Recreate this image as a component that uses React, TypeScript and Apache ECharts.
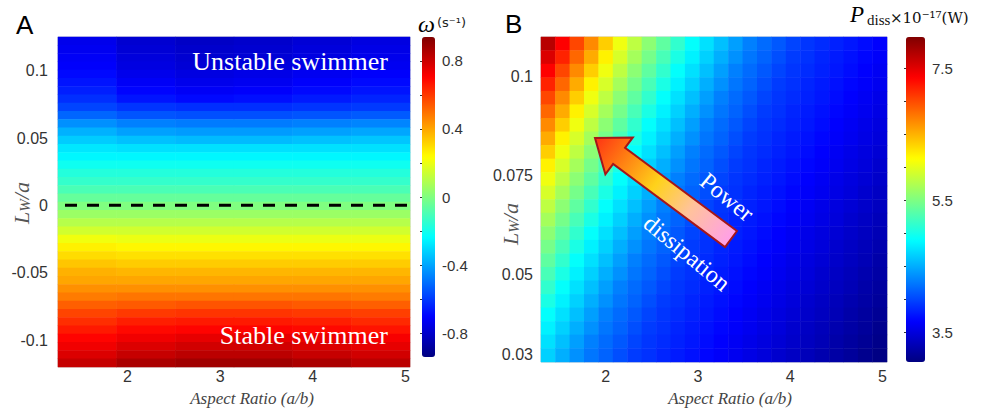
import React, { useEffect, useRef } from "react";
import * as echarts from "echarts";

// ---------- Panel A : omega (s^-1) over aspect ratio (columns) and L_W/a (rows, top -> bottom) ----------
const aspectColsA = ["1.57", "2.20", "2.83", "3.47", "4.10", "4.73"];
const lwRowsA = [
  "0.1219", "0.1158", "0.1097", "0.1036", "0.0974", "0.0913", "0.0852", "0.0791",
  "0.0729", "0.0668", "0.0607", "0.0546", "0.0484", "0.0423", "0.0362", "0.0301",
  "0.0239", "0.0178", "0.0117", "0.0056", "-0.0006", "-0.0067", "-0.0128", "-0.0189",
  "-0.0251", "-0.0312", "-0.0373", "-0.0434", "-0.0496", "-0.0557", "-0.0618", "-0.0679",
  "-0.0741", "-0.0802", "-0.0863", "-0.0924", "-0.0986", "-0.1047", "-0.1108", "-0.1169",
];
const omegaGrid = [
  [-0.74, -0.79, -0.81, -0.80, -0.78, -0.76],
  [-0.73, -0.78, -0.80, -0.79, -0.77, -0.75],
  [-0.72, -0.77, -0.79, -0.78, -0.76, -0.74],
  [-0.71, -0.76, -0.78, -0.77, -0.75, -0.73],
  [-0.69, -0.74, -0.76, -0.75, -0.73, -0.71],
  [-0.67, -0.72, -0.74, -0.73, -0.71, -0.69],
  [-0.65, -0.70, -0.72, -0.71, -0.69, -0.67],
  [-0.62, -0.67, -0.69, -0.68, -0.66, -0.64],
  [-0.58, -0.61, -0.62, -0.62, -0.61, -0.60],
  [-0.52, -0.55, -0.56, -0.56, -0.55, -0.54],
  [-0.44, -0.47, -0.48, -0.48, -0.47, -0.46],
  [-0.38, -0.41, -0.42, -0.42, -0.41, -0.40],
  [-0.33, -0.35, -0.36, -0.36, -0.35, -0.34],
  [-0.28, -0.29, -0.29, -0.29, -0.29, -0.29],
  [-0.25, -0.25, -0.25, -0.25, -0.25, -0.25],
  [-0.21, -0.21, -0.21, -0.21, -0.21, -0.21],
  [-0.17, -0.17, -0.17, -0.17, -0.17, -0.17],
  [-0.14, -0.14, -0.14, -0.14, -0.14, -0.14],
  [-0.10, -0.10, -0.10, -0.10, -0.10, -0.10],
  [-0.05, -0.05, -0.05, -0.05, -0.05, -0.05],
  [0.00, 0.00, 0.00, 0.00, 0.00, 0.00],
  [0.05, 0.05, 0.05, 0.05, 0.05, 0.05],
  [0.10, 0.10, 0.10, 0.10, 0.10, 0.10],
  [0.15, 0.15, 0.15, 0.15, 0.15, 0.15],
  [0.21, 0.20, 0.20, 0.20, 0.20, 0.20],
  [0.26, 0.25, 0.25, 0.25, 0.25, 0.25],
  [0.30, 0.29, 0.29, 0.29, 0.29, 0.29],
  [0.34, 0.33, 0.33, 0.33, 0.33, 0.33],
  [0.38, 0.37, 0.37, 0.37, 0.37, 0.37],
  [0.40, 0.40, 0.40, 0.40, 0.40, 0.40],
  [0.44, 0.44, 0.44, 0.44, 0.44, 0.44],
  [0.48, 0.49, 0.49, 0.49, 0.49, 0.48],
  [0.53, 0.54, 0.55, 0.55, 0.54, 0.53],
  [0.58, 0.60, 0.61, 0.61, 0.60, 0.59],
  [0.62, 0.65, 0.66, 0.66, 0.65, 0.63],
  [0.66, 0.69, 0.70, 0.70, 0.69, 0.67],
  [0.70, 0.73, 0.75, 0.75, 0.74, 0.72],
  [0.73, 0.77, 0.79, 0.79, 0.77, 0.75],
  [0.77, 0.81, 0.83, 0.83, 0.81, 0.79],
  [0.81, 0.86, 0.88, 0.88, 0.86, 0.83],
];
const neutralLine = [
  [1.25, 0],
  [5.05, 0],
];

// ---------- Panel B : P_diss (x10^-17 W), columns = aspect ratio, rows = L_W/a top -> bottom ----------
const aspectColsB = [
  "1.38", "1.53", "1.69", "1.85", "2.00", "2.16", "2.32", "2.47", "2.63", "2.78", "2.94", "3.10",
  "3.25", "3.41", "3.57", "3.72", "3.88", "4.03", "4.19", "4.35", "4.50", "4.66", "4.82", "4.97",
];
const lwRowsB = [
  "0.1083", "0.1049", "0.1015", "0.0980", "0.0946", "0.0912", "0.0878", "0.0844",
  "0.0810", "0.0776", "0.0741", "0.0707", "0.0673", "0.0639", "0.0605", "0.0571",
  "0.0537", "0.0502", "0.0468", "0.0434", "0.0400", "0.0366", "0.0332", "0.0298",
];
const pDissGrid = [
  [7.70, 7.36, 7.02, 6.69, 6.36, 6.05, 5.81, 5.57, 5.35, 5.13, 4.91, 4.75, 4.59, 4.43, 4.28, 4.18, 4.09, 3.99, 3.92, 3.87, 3.82, 3.77, 3.72, 3.66],
  [7.53, 7.19, 6.86, 6.53, 6.19, 5.93, 5.69, 5.46, 5.24, 5.02, 4.83, 4.67, 4.51, 4.36, 4.23, 4.14, 4.04, 3.95, 3.90, 3.84, 3.79, 3.74, 3.69, 3.64],
  [7.36, 7.02, 6.69, 6.36, 6.05, 5.81, 5.57, 5.35, 5.13, 4.91, 4.75, 4.59, 4.43, 4.28, 4.18, 4.09, 3.99, 3.92, 3.87, 3.82, 3.77, 3.72, 3.66, 3.61],
  [7.19, 6.86, 6.53, 6.19, 5.93, 5.69, 5.46, 5.24, 5.02, 4.83, 4.67, 4.51, 4.36, 4.23, 4.14, 4.04, 3.95, 3.90, 3.84, 3.79, 3.74, 3.69, 3.64, 3.59],
  [7.02, 6.69, 6.36, 6.05, 5.81, 5.57, 5.35, 5.13, 4.91, 4.75, 4.59, 4.43, 4.28, 4.18, 4.09, 3.99, 3.92, 3.87, 3.82, 3.77, 3.72, 3.66, 3.61, 3.56],
  [6.86, 6.53, 6.19, 5.93, 5.69, 5.46, 5.24, 5.02, 4.83, 4.67, 4.51, 4.36, 4.23, 4.14, 4.04, 3.95, 3.90, 3.84, 3.79, 3.74, 3.69, 3.64, 3.59, 3.54],
  [6.69, 6.36, 6.05, 5.81, 5.57, 5.35, 5.13, 4.91, 4.75, 4.59, 4.43, 4.28, 4.18, 4.09, 3.99, 3.92, 3.87, 3.82, 3.77, 3.72, 3.66, 3.61, 3.56, 3.51],
  [6.53, 6.19, 5.93, 5.69, 5.46, 5.24, 5.02, 4.83, 4.67, 4.51, 4.36, 4.23, 4.14, 4.04, 3.95, 3.90, 3.84, 3.79, 3.74, 3.69, 3.64, 3.59, 3.54, 3.49],
  [6.36, 6.05, 5.81, 5.57, 5.35, 5.13, 4.91, 4.75, 4.59, 4.43, 4.28, 4.18, 4.09, 3.99, 3.92, 3.87, 3.82, 3.77, 3.72, 3.66, 3.61, 3.56, 3.51, 3.46],
  [6.19, 5.93, 5.69, 5.46, 5.24, 5.02, 4.83, 4.67, 4.51, 4.36, 4.23, 4.14, 4.04, 3.95, 3.90, 3.84, 3.79, 3.74, 3.69, 3.64, 3.59, 3.54, 3.49, 3.43],
  [6.05, 5.81, 5.57, 5.35, 5.13, 4.91, 4.75, 4.59, 4.43, 4.28, 4.18, 4.09, 3.99, 3.92, 3.87, 3.82, 3.77, 3.72, 3.66, 3.61, 3.56, 3.51, 3.46, 3.41],
  [5.93, 5.69, 5.46, 5.24, 5.02, 4.83, 4.67, 4.51, 4.36, 4.23, 4.14, 4.04, 3.95, 3.90, 3.84, 3.79, 3.74, 3.69, 3.64, 3.59, 3.54, 3.49, 3.43, 3.38],
  [5.81, 5.57, 5.35, 5.13, 4.91, 4.75, 4.59, 4.43, 4.28, 4.18, 4.09, 3.99, 3.92, 3.87, 3.82, 3.77, 3.72, 3.66, 3.61, 3.56, 3.51, 3.46, 3.41, 3.36],
  [5.69, 5.46, 5.24, 5.02, 4.83, 4.67, 4.51, 4.36, 4.23, 4.14, 4.04, 3.95, 3.90, 3.84, 3.79, 3.74, 3.69, 3.64, 3.59, 3.54, 3.49, 3.43, 3.38, 3.33],
  [5.57, 5.35, 5.13, 4.91, 4.75, 4.59, 4.43, 4.28, 4.18, 4.09, 3.99, 3.92, 3.87, 3.82, 3.77, 3.72, 3.66, 3.61, 3.56, 3.51, 3.46, 3.41, 3.36, 3.31],
  [5.46, 5.24, 5.02, 4.83, 4.67, 4.51, 4.36, 4.23, 4.14, 4.04, 3.95, 3.90, 3.84, 3.79, 3.74, 3.69, 3.64, 3.59, 3.54, 3.49, 3.43, 3.38, 3.33, 3.28],
  [5.35, 5.13, 4.91, 4.75, 4.59, 4.43, 4.28, 4.18, 4.09, 3.99, 3.92, 3.87, 3.82, 3.77, 3.72, 3.66, 3.61, 3.56, 3.51, 3.46, 3.41, 3.36, 3.31, 3.25],
  [5.24, 5.02, 4.83, 4.67, 4.51, 4.36, 4.23, 4.14, 4.04, 3.95, 3.90, 3.84, 3.79, 3.74, 3.69, 3.64, 3.59, 3.54, 3.49, 3.43, 3.38, 3.33, 3.28, 3.23],
  [5.13, 4.91, 4.75, 4.59, 4.43, 4.28, 4.18, 4.09, 3.99, 3.92, 3.87, 3.82, 3.77, 3.72, 3.66, 3.61, 3.56, 3.51, 3.46, 3.41, 3.36, 3.31, 3.25, 3.20],
  [5.02, 4.83, 4.67, 4.51, 4.36, 4.23, 4.14, 4.04, 3.95, 3.90, 3.84, 3.79, 3.74, 3.69, 3.64, 3.59, 3.54, 3.49, 3.43, 3.38, 3.33, 3.28, 3.23, 3.18],
  [4.91, 4.75, 4.59, 4.43, 4.28, 4.18, 4.09, 3.99, 3.92, 3.87, 3.82, 3.77, 3.72, 3.66, 3.61, 3.56, 3.51, 3.46, 3.41, 3.36, 3.31, 3.25, 3.20, 3.15],
  [4.83, 4.67, 4.51, 4.36, 4.23, 4.14, 4.04, 3.95, 3.90, 3.84, 3.79, 3.74, 3.69, 3.64, 3.59, 3.54, 3.49, 3.43, 3.38, 3.33, 3.28, 3.23, 3.18, 3.12],
  [4.75, 4.59, 4.43, 4.28, 4.18, 4.09, 3.99, 3.92, 3.87, 3.82, 3.77, 3.72, 3.66, 3.61, 3.56, 3.51, 3.46, 3.41, 3.36, 3.31, 3.25, 3.20, 3.15, 3.10],
  [4.67, 4.51, 4.36, 4.23, 4.14, 4.04, 3.95, 3.90, 3.84, 3.79, 3.74, 3.69, 3.64, 3.59, 3.54, 3.49, 3.43, 3.38, 3.33, 3.28, 3.23, 3.18, 3.12, 3.07],
];

// ---------- tick labels ----------
const xTicks = [2, 3, 4, 5];
const yTicksA = [-0.1, -0.05, 0, 0.05, 0.1];
const yTicksB = [0.03, 0.05, 0.075, 0.1];
const cbTicksA = [-0.8, -0.4, 0, 0.4, 0.8];
const cbMinorA = [-0.8, -0.6, -0.4, -0.2, 0, 0.2, 0.4, 0.6, 0.8];
const cbTicksB = [3.5, 5.5, 7.5];
const cbMinorB = [3.5, 4, 4.5, 5, 5.5, 6, 6.5, 7, 7.5];

const JET = [
  "#000080", "#0000ff", "#0080ff", "#00ffff", "#80ff80",
  "#ffff00", "#ff8000", "#ff0000", "#800000",
];

function toCells(grid: number[][]) {
  const out: number[][] = [];
  grid.forEach((row, r) => row.forEach((v, c) => out.push([c, r, v])));
  return out;
}

const SANS = "Liberation Sans, Arial, sans-serif";
const SERIF = "Liberation Serif, Times New Roman, serif";

export default function App() {
  const ref = useRef<HTMLDivElement>(null);

  useEffect(() => {
    document.body.style.margin = "0";
    if (!ref.current) return;
    const chart = echarts.init(ref.current, undefined, { renderer: "svg" });

    const valueX = (grid: number, min: number, max: number, margin: number) => ({
      type: "value",
      gridIndex: grid,
      min,
      max,
      position: "bottom",
      splitLine: { show: false },
      axisTick: { show: false },
      axisLine: { show: false },
      axisLabel: {
        customValues: xTicks,
        fontSize: 16,
        color: "#333",
        fontFamily: SANS,
        margin,
      },
    });
    const valueY = (grid: number, min: number, max: number, ticks: number[], margin: number) => ({
      type: "value",
      gridIndex: grid,
      min,
      max,
      position: "left",
      splitLine: { show: false },
      axisTick: { show: false },
      axisLine: { show: false },
      axisLabel: {
        customValues: ticks,
        fontSize: 16,
        color: "#333",
        fontFamily: SANS,
        margin,
      },
    });
    const cbY = (grid: number, min: number, max: number, ticks: number[], minor: number[]) => ({
      type: "value",
      gridIndex: grid,
      min,
      max,
      position: "right",
      splitLine: { show: false },
      axisLine: { show: false },
      axisTick: {
        show: true,
        inside: true,
        length: 2,
        customValues: minor,
        lineStyle: { color: "#333", width: 1 },
      },
      axisLabel: {
        customValues: ticks,
        fontSize: 15,
        color: "#333",
        fontFamily: SANS,
        margin: 7,
      },
    });

    // arrow annotation geometry (pixels)
    const tip = [595, 138];
    const tail = [731, 239];
    const dx = tip[0] - tail[0];
    const dy = tip[1] - tail[1];
    const len = Math.hypot(dx, dy);
    const ux = dx / len, uy = dy / len;
    const nx = -uy, ny = ux;
    const headLen = 30, headHalf = 23, shaftHalf = 10;
    const bx = tip[0] - ux * headLen, by = tip[1] - uy * headLen;
    const arrowPts = [
      [tail[0] + nx * shaftHalf, tail[1] + ny * shaftHalf],
      [bx + nx * shaftHalf, by + ny * shaftHalf],
      [bx + nx * headHalf, by + ny * headHalf],
      [tip[0], tip[1]],
      [bx - nx * headHalf, by - ny * headHalf],
      [bx - nx * shaftHalf, by - ny * shaftHalf],
      [tail[0] - nx * shaftHalf, tail[1] - ny * shaftHalf],
    ];
    const arrowFill = new echarts.graphic.LinearGradient(
      tail[0], tail[1], tip[0], tip[1],
      [
        { offset: 0, color: "#ff9fe8" },
        { offset: 0.3, color: "#ffc39a" },
        { offset: 0.55, color: "#ffd21a" },
        { offset: 0.8, color: "#ff7a12" },
        { offset: 1, color: "#ff3214" },
      ],
      true
    );

    const yTitle = (x: number, y: number) => ({
      type: "text", x, y, rotation: Math.PI / 2, z: 100,
      style: {
        text: "{i|L}{s|W}{i|/a}", align: "center", verticalAlign: "middle",
        rich: {
          i: { fontSize: 22, fontStyle: "italic", fontFamily: SERIF, fill: "#555", verticalAlign: "bottom" },
          s: { fontSize: 15, fontStyle: "italic", fontFamily: SERIF, fill: "#555", verticalAlign: "bottom" },
        },
      },
    });

    chart.setOption({
      animation: false,
      grid: [
        { left: 58, top: 37, width: 352, height: 330, show: true, borderColor: "#c8c8c8", borderWidth: 1, backgroundColor: "transparent" },
        { left: 541, top: 37, width: 346, height: 325, show: true, borderColor: "#c8c8c8", borderWidth: 1, backgroundColor: "transparent" },
        { left: 422, top: 37, width: 13, height: 320 },
        { left: 906, top: 37, width: 19, height: 325 },
      ],
      xAxis: [
        { type: "category", gridIndex: 0, data: aspectColsA, show: false, position: "top" },
        valueX(0, 1.25, 5.05, 1),
        { type: "category", gridIndex: 1, data: aspectColsB, show: false, position: "top" },
        valueX(1, 1.3, 5.05, 6),
        { type: "value", gridIndex: 2, min: 0, max: 1, show: false },
        { type: "value", gridIndex: 3, min: 0, max: 1, show: false },
      ],
      yAxis: [
        { type: "category", gridIndex: 0, data: lwRowsA, inverse: true, show: false, position: "right" },
        valueY(0, -0.12, 0.125, yTicksA, 10),
        { type: "category", gridIndex: 1, data: lwRowsB, inverse: true, show: false, position: "right" },
        valueY(1, 0.028, 0.11, yTicksB, 8),
        cbY(2, -0.94, 0.94, cbTicksA, cbMinorA),
        cbY(3, 3.05, 7.97, cbTicksB, cbMinorB),
      ],
      visualMap: [
        {
          type: "continuous",
          seriesIndex: 0,
          min: -0.94,
          max: 0.94,
          left: 422,
          top: 37,
          itemWidth: 13,
          itemHeight: 320,
          padding: 0,
          calculable: false,
          hoverLink: false,
          inRange: { color: JET },
        },
        {
          type: "continuous",
          seriesIndex: 1,
          min: 3.05,
          max: 7.97,
          left: 906,
          top: 37,
          itemWidth: 19,
          itemHeight: 325,
          padding: 0,
          calculable: false,
          hoverLink: false,
          inRange: { color: JET },
        },
      ],
      series: [
        {
          type: "heatmap",
          xAxisIndex: 0,
          yAxisIndex: 0,
          data: toCells(omegaGrid),
          emphasis: { disabled: true },
          itemStyle: { borderWidth: 0 },
        },
        {
          type: "heatmap",
          xAxisIndex: 2,
          yAxisIndex: 2,
          data: toCells(pDissGrid),
          emphasis: { disabled: true },
          itemStyle: { borderWidth: 0 },
        },
        {
          type: "line",
          xAxisIndex: 1,
          yAxisIndex: 1,
          data: neutralLine,
          symbol: "none",
          z: 5,
          lineStyle: { color: "#000", width: 3, type: [12, 10], dashOffset: 15 },
        },
      ],
      graphic: [
        { type: "text", x: 16, y: 12, z: 100, style: { text: "A", fontSize: 26, fontFamily: SANS, fill: "#000" } },
        { type: "text", x: 505, y: 11, z: 100, style: { text: "B", fontSize: 26, fontFamily: SANS, fill: "#000" } },
        {
          type: "text", x: 388, y: 61, z: 100,
          style: { text: "Unstable swimmer", fontSize: 26, fontFamily: SERIF, fill: "#fff", align: "right", verticalAlign: "middle" },
        },
        {
          type: "text", x: 388, y: 335, z: 100,
          style: { text: "Stable swimmer", fontSize: 26, fontFamily: SERIF, fill: "#fff", align: "right", verticalAlign: "middle" },
        },
        {
          type: "text", x: 252, y: 398, z: 100,
          style: { text: "Aspect Ratio (a/b)", fontSize: 17, fontStyle: "italic", fontFamily: SERIF, fill: "#444", align: "center", verticalAlign: "middle" },
        },
        {
          type: "text", x: 730, y: 398, z: 100,
          style: { text: "Aspect Ratio (a/b)", fontSize: 17, fontStyle: "italic", fontFamily: SERIF, fill: "#444", align: "center", verticalAlign: "middle" },
        },
        yTitle(21, 203),
        yTitle(510, 224),
        {
          type: "text", x: 418, y: 24, z: 100,
          style: { text: "ω", fontSize: 24, fontStyle: "italic", fontFamily: SERIF, fill: "#000", verticalAlign: "middle" },
        },
        {
          type: "text", x: 437, y: 22, z: 100,
          style: { text: "(s⁻¹)", fontSize: 13, fontFamily: "DejaVu Sans, sans-serif", fill: "#222", verticalAlign: "middle" },
        },
        {
          type: "text", x: 850, y: 14, z: 100,
          style: { text: "P", fontSize: 23, fontStyle: "italic", fontFamily: SERIF, fill: "#000", verticalAlign: "middle" },
        },
        {
          type: "text", x: 867, y: 20, z: 100,
          style: { text: "diss", fontSize: 15, fontFamily: SERIF, fill: "#111", verticalAlign: "middle" },
        },
        {
          type: "text", x: 890, y: 18, z: 100,
          style: { text: "×10⁻¹⁷(W)", fontSize: 15, fontFamily: "DejaVu Serif, serif", fill: "#111", verticalAlign: "middle" },
        },
        {
          type: "polygon", z: 100,
          shape: { points: arrowPts },
          style: { fill: arrowFill, stroke: "#a5161a", lineWidth: 2, lineJoin: "miter" },
        },
        {
          type: "text", x: 727, y: 197, rotation: -0.69, z: 100,
          style: { text: "Power", fontSize: 24, fontFamily: SERIF, fill: "#fff", align: "center", verticalAlign: "middle" },
        },
        {
          type: "text", x: 687, y: 253, rotation: -0.69, z: 100,
          style: { text: "dissipation", fontSize: 24, fontFamily: SERIF, fill: "#fff", align: "center", verticalAlign: "middle" },
        },
      ],
    });

    return () => chart.dispose();
  }, []);

  return <div ref={ref} style={{ width: 985, height: 413 }} />;
}
